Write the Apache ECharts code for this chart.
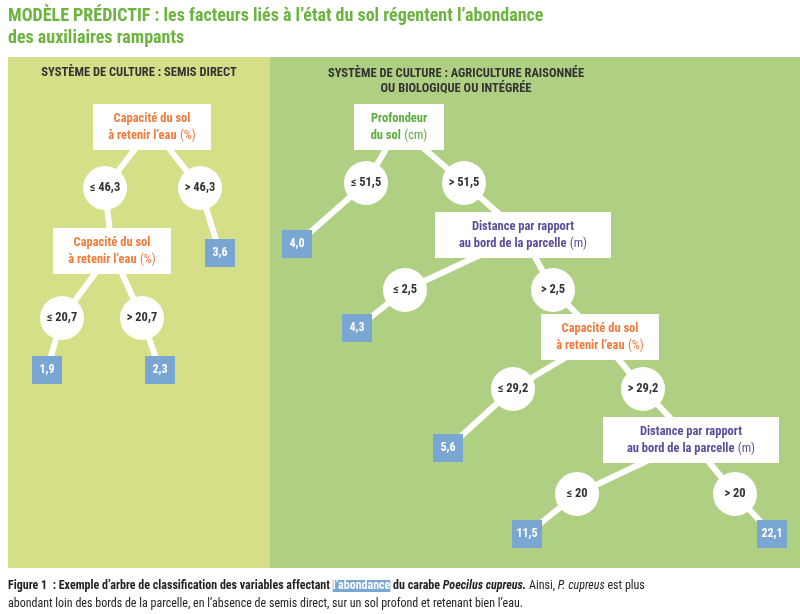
<!DOCTYPE html>
<html><head><meta charset="utf-8">
<script src="https://cdn.jsdelivr.net/npm/echarts@6/dist/echarts.min.js"></script>
<style>html,body{margin:0;padding:0;background:#fff}#c{width:800px;height:614px}</style>
</head><body><div id="c"></div>
<script>
// data of the two trees
var questions = ['cap', 'cap', 'prof', 'dist', 'cap', 'dist'];
var thresholds = ['≤ 46,3', '> 46,3', '≤ 20,7', '> 20,7', '≤ 51,5', '> 51,5', '≤ 2,5', '> 2,5', '≤ 29,2', '> 29,2', '≤ 20', '> 20'];
var leafValues = ['3,6', '1,9', '2,3', '4,0', '4,3', '5,6', '11,5', '22,1'];

// layout (pixel positions on the page)
var qPos = [[152,127],[112,251],[399,127],[523,235],[600,337],[691,440]];
var tPos = [[105,188],[200,188],[62,318],[142,318],[366,183],[464,183],[405,290],[553,290],[513,389],[643,389],[577,494],[735,494]];
var lPos = [[220,253],[47,370],[160,370],[297,244],[357,328],[448,448],[527,534],[772,534]];
// edges: [from, to]
var edges = [['q0','t0'],['q0','t1'],['t1','l0'],['t0','q1'],['q1','t2'],['q1','t3'],['t2','l1'],['t3','l2'],
  ['q2','t4'],['q2','t5'],['t4','l3'],['t5','q3'],['q3','t6'],['q3','t7'],['t6','l4'],['t7','q4'],
  ['q4','t8'],['q4','t9'],['t8','l5'],['t9','q5'],['q5','t10'],['q5','t11'],['t10','l6'],['t11','l7']];

var qStyle = {
  cap: {size:[118,46], color:'#f07b3a', fmt:'{b|Capacité du sol}\n{b|à retenir l’eau} {n|(%)}'},
  prof: {size:[90,46], color:'#5aad3e', fmt:'{b|Profondeur}\n{b|du sol} {n|(cm)}'},
  dist: {size:[176,46], color:'#5b4c99', fmt:'{b|Distance par rapport}\n{b|au bord de la parcelle} {n|(m)}'}
};
var font = '"Roboto Condensed","Liberation Sans Narrow","Roboto",sans-serif';
var nodes = [];
questions.forEach(function(q, i){
  var s = qStyle[q];
  nodes.push({name:'q'+i, value:qPos[i], symbol:'rect', symbolSize:s.size,
    itemStyle:{color:'#fff'},
    label:{show:true, position:'inside', formatter:s.fmt, lineHeight:17,
      rich:{b:{color:s.color, fontWeight:'bold', fontSize:12.5, fontFamily:font, lineHeight:17},
            n:{color:s.color, fontSize:12.5, fontFamily:font, lineHeight:17}}}});
});
thresholds.forEach(function(t, i){
  nodes.push({name:'t'+i, value:tPos[i], symbol:'circle', symbolSize:44,
    itemStyle:{color:'#fff'},
    label:{show:true, position:'inside', formatter:t, color:'#333', fontWeight:'bold', fontSize:12.5, fontFamily:font}});
});
leafValues.forEach(function(v, i){
  nodes.push({name:'l'+i, value:lPos[i], symbol:'rect', symbolSize:[30,28],
    itemStyle:{color:'#7aa6d3'},
    label:{show:true, position:'inside', formatter:v, color:'#fff', fontWeight:'bold', fontSize:12, fontFamily:font}});
});

var chart = echarts.init(document.getElementById('c'));
chart.setOption({
  animation:false,
  grid:{left:0, top:0, width:800, height:614},
  xAxis:{type:'value', min:0, max:800, show:false},
  yAxis:{type:'value', min:0, max:614, inverse:true, show:false},
  graphic:[
    {type:'rect', shape:{x:8, y:57, width:262, height:511}, style:{fill:'#d5df88'}, z:-10},
    {type:'rect', shape:{x:270, y:57, width:530, height:511}, style:{fill:'#afd082'}, z:-10},
    {type:'text', style:{x:8, y:5, text:'MODÈLE PRÉDICTIF : les facteurs liés à l’état du sol régentent l’abondance\ndes auxiliaires rampants',
      fill:'#6cb33f', font:'bold 18px '+font, lineHeight:22}},
    {type:'text', style:{x:139, y:66, text:'SYSTÈME DE CULTURE : SEMIS DIRECT', fill:'#333', font:'bold 12.5px '+font, align:'center'}},
    {type:'text', style:{x:456, y:66, text:'SYSTÈME DE CULTURE : AGRICULTURE RAISONNÉE\nOU BIOLOGIQUE OU INTÉGRÉE', fill:'#333', font:'bold 12.5px '+font, align:'center', lineHeight:15}},
    {type:'text', style:{x:8, y:577, rich:{
        a:{font:'bold 12px '+font, fill:'#222'},
        h:{font:'bold 12px '+font, fill:'#fff', backgroundColor:'#7aa6d3'},
        i:{font:'italic bold 12px '+font, fill:'#222'},
        r:{font:'12px '+font, fill:'#222'},
        ri:{font:'italic 12px '+font, fill:'#222'}},
      text:'{a|Figure 1  : Exemple d’arbre de classification des variables affectant }{h|l’abondance}{a| du carabe }{i|Poecilus cupreus.}{r| Ainsi, }{ri|P. cupreus}{r| est plus}\n{r|abondant loin des bords de la parcelle, en l’absence de semis direct, sur un sol profond et retenant bien l’eau.}',
      lineHeight:18}}
  ],
  series:[{
    type:'graph', coordinateSystem:'cartesian2d', layout:'none',
    data:nodes,
    links:edges.map(function(e){return {source:e[0], target:e[1]};}),
    lineStyle:{color:'#fff', width:6, opacity:1},
    emphasis:{disabled:true}
  }]
});
</script></body></html>
